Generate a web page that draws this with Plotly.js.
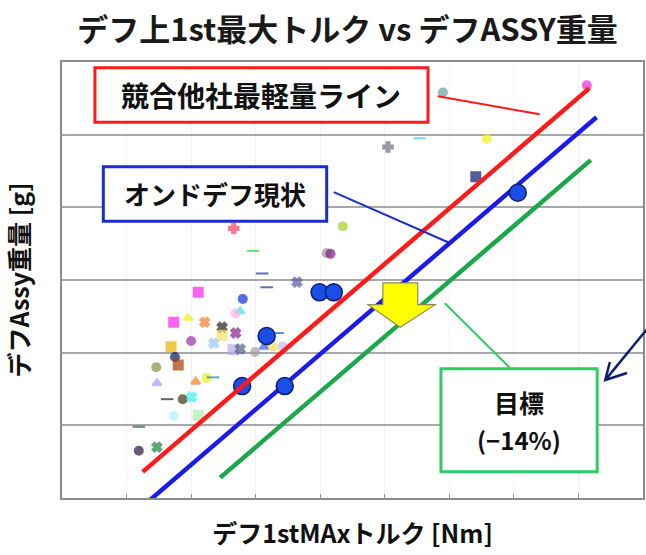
<!DOCTYPE html>
<html>
<head>
<meta charset="utf-8">
<script src="https://cdn.plot.ly/plotly-3.0.1.min.js"></script>
<style>
  html, body { margin: 0; padding: 0; background: #ffffff; }
  #chart { width: 646px; height: 555px; }
</style>
</head>
<body>
<div id="chart"></div>
<script>
// Competitor differentials: 1st-gear max torque vs diff assembly weight (scaled units)
const compX = [3.10, 3.17, 3.64, 2.11, 2.80, 2.76, 2.69, 1.73, 1.95, 2.21,
               2.48, 2.48, 2.69, 2.00, 2.35, 3.34, 1.69, 1.75, 1.80, 1.46,
               1.47, 2.07, 2.24, 2.34, 2.65, 2.76, 2.99, 3.13, 3.27, 3.42,
               1.63, 1.87, 2.01, 1.73, 2.11, 1.19, 1.19, 1.47, 2.66, 2.96,
               4.35, 4.10, 4.16, 5.90, 5.05, 5.54, 6.58, 6.41, 8.13];
const compY = [3.09, 2.90, 2.97, 2.83, 2.74, 2.57, 2.54, 2.42, 2.48, 2.42,
               2.35, 2.24, 2.27, 2.16, 2.13, 2.27, 2.08, 1.94, 1.83, 1.80,
               1.58, 1.60, 1.65, 1.66, 2.04, 2.05, 2.01, 2.08, 2.08, 2.09,
               1.36, 1.36, 1.39, 1.13, 1.14, 0.98, 0.65, 0.70, 3.71, 3.40,
               3.74, 3.37, 3.36, 5.58, 4.83, 4.95, 4.94, 4.42, 5.68];

// Current in-house differentials
const curX = [2.79, 3.45, 3.17, 3.99, 4.21, 7.06];
const curY = [1.54, 1.54, 2.23, 2.83, 2.83, 4.20];

// Trend lines (endpoints)
const lightestX = [1.25, 8.17];   // 競合他社最軽量ライン
const lightestY = [0.36, 5.64];
const currentX  = [1.36, 8.28];   // オンドデフ現状
const currentY  = [-0.03, 5.24];
const targetX   = [2.45, 8.19];   // 目標 (-14%)
const targetY   = [0.28, 4.65];

// Label texts
const chartTitle = 'デフ上1st最大トルク vs デフASSY重量';
const xTitle = 'デフ1stMAxトルク [Nm]';
const yTitle = 'デフAssy重量 [g]';
const lightestLabel = '競合他社最軽量ライン';
const currentLabel = 'オンドデフ現状';
const targetLabel = '目標';
const targetRate = '(−14%)';

// Marker styling per competitor point
const compSymbol = ['line-ew','line-ew','x','square','circle','triangle-up','circle','square','triangle-up','x',
                    'x','square','x','circle','x','line-ew','square','circle','square','circle',
                    'triangle-up','triangle-up','circle','line-ew','square','x','circle','triangle-up','circle','circle',
                    'line-ew','circle','x','circle','square','line-ew','circle','x','cross','line-ew',
                    'circle','circle','circle','circle','cross','line-ew','circle','square','circle'];
const compColor = ['#1c2fa8','#1c2fa8','#5a5aa0','#ff22ee','#1030e0','#33e6ee','#ffb0e0','#ff22ee','#f0f010','#f08030',
                   '#222222','#f5e060','#882288','#9933aa','#99c8f0','#1f55dd','#f0b000','#101860','#a04000','#8a9040',
                   '#a7a0f0','#f08020','#e8f020','#1a8a8a','#c0a8f0','#506080','#a0a0a0','#4060e0','#f0e060','#c0c0f0',
                   '#222222','#403a10','#40f0f0','#b0f4f8','#a8f0a8','#206040','#301040','#208040','#ff4060','#30d040',
                   '#a8d020','#909090','#802080','#60a0a0','#707080','#40c8f0','#f8f020','#101870','#ee22dd'];
const compSize = compSymbol.map(s => s === 'line-ew' ? 9 : (s === 'square' ? 9 : 8));

const FONT = 'Noto Sans CJK JP, sans-serif';

const traces = [
  {
    type: 'scatter', mode: 'markers', x: compX, y: compY, hoverinfo: 'skip',
    marker: {
      symbol: compSymbol, color: compColor, size: compSize,
      line: { color: compColor, width: 2 }
    }
  },
  {
    type: 'scatter', mode: 'lines', x: currentX, y: currentY, hoverinfo: 'skip',
    line: { color: '#1a1aee', width: 4.5 }
  },
  {
    type: 'scatter', mode: 'markers', x: curX, y: curY, hoverinfo: 'skip',
    marker: { symbol: 'circle', color: '#1a4ee6', size: 17, line: { color: '#0b1e70', width: 1.5 } }
  },
  {
    type: 'scatter', mode: 'lines', x: lightestX, y: lightestY, hoverinfo: 'skip',
    line: { color: '#ff1a1a', width: 4.5 }
  },
  {
    type: 'scatter', mode: 'lines', x: targetX, y: targetY, hoverinfo: 'skip',
    line: { color: '#1aa84a', width: 4.5 }
  }
];

const shapes = [
  // label boxes
  { type: 'rect', xref: 'x', yref: 'y', x0: 0.51, x1: 5.67, y0: 5.17, y1: 5.92,
    line: { color: '#ff1a1a', width: 3 }, fillcolor: '#ffffff', layer: 'above' },
  { type: 'rect', xref: 'x', yref: 'y', x0: 0.64, x1: 4.10, y0: 3.81, y1: 4.56,
    line: { color: '#1a2ed0', width: 3 }, fillcolor: '#ffffff', layer: 'above' },
  { type: 'rect', xref: 'x', yref: 'y', x0: 5.87, x1: 8.29, y0: 0.36, y1: 1.78,
    line: { color: '#2ecc66', width: 3 }, fillcolor: '#ffffff', layer: 'above' },
  // leader lines
  { type: 'line', xref: 'x', yref: 'y', x0: 5.82, y0: 5.53, x1: 7.40, y1: 5.28,
    line: { color: '#ff1a1a', width: 2 }, layer: 'above' },
  { type: 'line', xref: 'x', yref: 'y', x0: 4.21, y0: 4.21, x1: 5.98, y1: 3.52,
    line: { color: '#1a2ed0', width: 2 }, layer: 'above' },
  { type: 'line', xref: 'x', yref: 'y', x0: 5.93, y0: 2.68, x1: 6.94, y1: 1.79,
    line: { color: '#2ecc66', width: 2 }, layer: 'above' },
  // yellow reduction arrow
  { type: 'path', xref: 'x', yref: 'y',
    path: 'M4.97,2.96 L5.51,2.96 L5.51,2.66 L5.78,2.66 L5.24,2.35 L4.74,2.66 L4.97,2.66 Z',
    fillcolor: '#ffff00', line: { color: '#8a8a60', width: 1.2 }, layer: 'above' },
  // navy pointer arrow at the right edge
  { type: 'line', xref: 'paper', yref: 'paper', x0: 1.006, y0: 0.386, x1: 0.936, y1: 0.272,
    line: { color: '#0c1f70', width: 2.5 }, layer: 'above' },
  { type: 'path', xref: 'paper', yref: 'paper',
    path: 'M0.943,0.312 L0.935,0.2706 L0.9725,0.2867',
    line: { color: '#0c1f70', width: 2.5 }, layer: 'above' }
];

const annotations = [
  { xref: 'x', yref: 'y', x: 3.09, y: 5.545, text: lightestLabel, showarrow: false,
    font: { family: FONT, size: 28, color: '#111111', weight: 700 } },
  { xref: 'x', yref: 'y', x: 2.37, y: 4.185, text: currentLabel, showarrow: false,
    font: { family: FONT, size: 26, color: '#111111', weight: 700 } },
  { xref: 'x', yref: 'y', x: 7.08, y: 1.32, text: targetLabel, showarrow: false,
    font: { family: FONT, size: 25, color: '#111111', weight: 700 } },
  { xref: 'x', yref: 'y', x: 7.08, y: 0.80, text: targetRate, showarrow: false,
    font: { family: FONT, size: 24, color: '#111111', weight: 700 } }
];

const layout = {
  width: 646, height: 555,
  margin: { l: 62, r: 3, t: 62, b: 57 },
  paper_bgcolor: '#ffffff', plot_bgcolor: '#ffffff',
  showlegend: false,
  title: {
    text: chartTitle, xref: 'container', yref: 'container',
    x: 0.538, xanchor: 'center', y: 0.946, yanchor: 'middle',
    font: { family: FONT, size: 31, color: '#1a1a1a', weight: 700 }
  },
  xaxis: {
    range: [0, 9], dtick: 1, tick0: 0, showticklabels: false,
    ticks: 'inside', ticklen: 4, tickcolor: '#909090',
    showgrid: true, gridcolor: '#f1f1f1', gridwidth: 1, zeroline: false,
    showline: true, linecolor: '#8c8c8c', linewidth: 2, mirror: true,
    fixedrange: true,
    title: { text: xTitle, standoff: 26, font: { family: FONT, size: 25, color: '#111111', weight: 700 } }
  },
  yaxis: {
    range: [0, 6], dtick: 1, tick0: 0, showticklabels: false, ticks: '',
    showgrid: true, gridcolor: '#a8a8a8', gridwidth: 2, zeroline: false,
    showline: true, linecolor: '#8c8c8c', linewidth: 2, mirror: true,
    fixedrange: true,
    title: { text: yTitle, standoff: 26, font: { family: FONT, size: 25, color: '#111111', weight: 700 } }
  },
  shapes: shapes,
  annotations: annotations
};

Plotly.newPlot('chart', traces, layout, { displayModeBar: false, staticPlot: true });
</script>
</body>
</html>
